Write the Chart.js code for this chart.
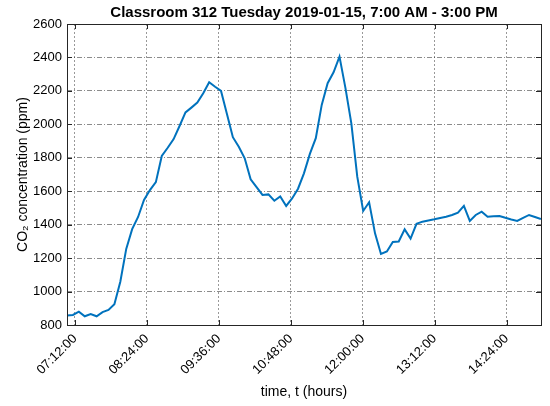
<!DOCTYPE html>
<html>
<head>
<meta charset="utf-8">
<script src="https://cdn.jsdelivr.net/npm/chart.js@4/dist/chart.umd.min.js"></script>
<style>
  body { margin: 0; background: #fff; }
</style>
</head>
<body>
<canvas id="co2Chart" width="550" height="406"></canvas>
<script>
// logger samples: first reading 07:04, roughly every 6 minutes
const startMin = 424;
const stepMin = 5.93;

// CO2 readings (ppm)
const co2 = [
  857, 860, 880, 852, 865, 852, 877, 890, 924, 1059,
  1255, 1373, 1446, 1548, 1607, 1654, 1811, 1860, 1912, 1990,
  2071, 2100, 2130, 2186, 2252, 2225, 2200, 2062, 1923, 1866,
  1797, 1671, 1624, 1578, 1581, 1543, 1569, 1512, 1557, 1615,
  1707, 1823, 1917, 2116, 2246, 2311, 2405, 2218, 2006, 1687,
  1482, 1534, 1348, 1225, 1240, 1296, 1299, 1372, 1317, 1405,
  1418, 1425, 1432, 1440, 1447, 1458, 1472, 1512, 1422, 1458,
  1478, 1448, 1451, 1452, 1441, 1431, 1422, 1440, 1458, 1446,
  1434
];

const times = co2.map((v, i) => startMin + i * stepMin);

const tickTimes = [432, 504, 576, 648, 720, 792, 864];
const tickLabels = ["07:12:00", "08:24:00", "09:36:00", "10:48:00", "12:00:00", "13:12:00", "14:24:00"];
const yTicks = [800, 1000, 1200, 1400, 1600, 1800, 2000, 2200, 2400, 2600];

const fontFamily = "'Liberation Sans', Arial, Helvetica, sans-serif";

// MATLAB-like box with inward tick marks
const framePlugin = {
  id: "frame",
  afterDraw(chart) {
    const { ctx, chartArea: a, scales } = chart;
    ctx.save();
    ctx.strokeStyle = "#262626";
    ctx.lineWidth = 1;
    ctx.strokeRect(Math.round(a.left) + 0.5, Math.round(a.top) + 0.5,
      Math.round(a.right - a.left), Math.round(a.bottom - a.top));
    ctx.beginPath();
    tickTimes.forEach((t) => {
      const x = Math.round(scales.x.getPixelForValue(t)) + 0.5;
      ctx.moveTo(x, a.bottom);
      ctx.lineTo(x, a.bottom - 5);
      ctx.moveTo(x, a.top);
      ctx.lineTo(x, a.top + 5);
    });
    yTicks.forEach((v) => {
      const y = Math.round(scales.y.getPixelForValue(v)) + 0.5;
      ctx.moveTo(a.left, y);
      ctx.lineTo(a.left + 5, y);
      ctx.moveTo(a.right, y);
      ctx.lineTo(a.right - 5, y);
    });
    ctx.stroke();
    ctx.restore();
  },
};

const ctx = document.getElementById("co2Chart").getContext("2d");
new Chart(ctx, {
  type: "line",
  data: {
    datasets: [
      {
        label: "CO2",
        data: times.map((t, i) => ({ x: t, y: co2[i] })),
        borderColor: "#0072BD",
        borderWidth: 2,
        pointRadius: 0,
        tension: 0,
        fill: false,
      },
    ],
  },
  options: {
    responsive: false,
    animation: false,
    layout: { padding: { left: 0, right: 9, top: 0, bottom: 0 } },
    plugins: {
      legend: { display: false },
      tooltip: { enabled: false },
      title: {
        display: true,
        fullSize: false, // centre over the axes, like MATLAB
        text: "Classroom 312 Tuesday 2019-01-15, 7:00 AM - 3:00 PM",
        color: "#000",
        font: { family: fontFamily, size: 15, weight: "bold" },
        padding: { top: 4, bottom: 2 },
      },
    },
    scales: {
      x: {
        type: "linear",
        min: 424,
        max: 898.5,
        afterBuildTicks: (scale) => {
          scale.ticks = tickTimes.map((t) => ({ value: t }));
        },
        afterFit: (scale) => {
          scale.height = 81;
        },
        ticks: {
          autoSkip: false,
          minRotation: 45,
          maxRotation: 45,
          padding: 6,
          color: "#000",
          font: { family: fontFamily, size: 13 },
          callback: (value) => tickLabels[tickTimes.indexOf(value)],
        },
        grid: {
          color: "rgba(0,0,0,0.4)",
          lineWidth: 1,
          drawTicks: false,
        },
        border: { display: false, dash: [2, 2] },
        title: {
          display: true,
          text: "time, t (hours)",
          color: "#000",
          font: { family: fontFamily, size: 14 },
          padding: { top: 0, bottom: 5 },
        },
      },
      y: {
        min: 800,
        max: 2600,
        afterBuildTicks: (scale) => {
          scale.ticks = yTicks.map((v) => ({ value: v }));
        },
        afterFit: (scale) => {
          scale.width = 67;
        },
        ticks: {
          padding: 5,
          color: "#000",
          font: { family: fontFamily, size: 13 },
          callback: (value) => String(value),
        },
        grid: {
          color: "rgba(0,0,0,0.45)",
          lineWidth: 1,
          drawTicks: false,
        },
        border: { display: false, dash: [5, 2, 1, 2] },
        title: {
          display: true,
          text: "CO₂ concentration (ppm)",
          color: "#000",
          font: { family: fontFamily, size: 14 },
          padding: { top: 15, bottom: 0 },
        },
      },
    },
  },
  plugins: [framePlugin],
});
</script>
</body>
</html>
